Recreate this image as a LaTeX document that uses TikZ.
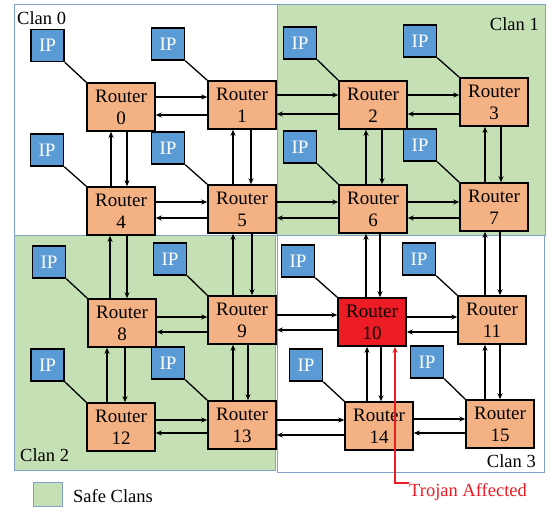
\documentclass[tikz,border=0pt]{standalone}
\usepackage{fontspec}
\setmainfont{Liberation Serif}
\usetikzlibrary{arrows.meta}
\definecolor{clanborder}{HTML}{7FA3CC}
\definecolor{clangreen}{HTML}{C5E0B4}
\definecolor{routerfill}{HTML}{F4B183}
\definecolor{ipfill}{HTML}{5B9BD5}
\definecolor{trojanred}{HTML}{ED1C24}
\tikzset{
  router/.style={draw=black, line width=1.5pt, fill=routerfill, minimum width=68pt, minimum height=48pt, inner sep=0pt, align=center, font=\fontsize{19}{22}\selectfont},
  ipbox/.style={draw=black, line width=1.5pt, fill=ipfill, minimum width=33pt, minimum height=32pt, inner sep=0pt, text=white, font=\fontsize{19}{22}\selectfont},
  clan/.style={draw=clanborder, line width=1pt},
  iplink/.style={draw=black, line width=1.3pt},
  arr/.style={draw=black, line width=1.3pt, -{Stealth[length=6pt,width=5pt]}},
  lbl/.style={font=\fontsize{18.5}{22}\selectfont, inner sep=0pt},
}
\newcommand\HPair[4]{%
  \draw[arr] (#1.east |- 0,#3) -- (#2.west |- 0,#3);
  \draw[arr] (#2.west |- 0,#4) -- (#1.east |- 0,#4);}
\newcommand\VPair[4]{%
  \draw[arr] (#2.north -| #3,0) -- (#1.south -| #3,0);
  \draw[arr] (#1.south -| #4,0) -- (#2.north -| #4,0);}
\begin{document}
\begin{tikzpicture}[x=1pt, y=-1pt]
\useasboundingbox[fill=white] (0,0) rectangle (551,508);
% clans
\path[clan, fill=white] (14,5) rectangle (277,235);
\path[clan, fill=clangreen] (277,5) rectangle (545,235);
\path[clan, fill=clangreen] (14,235) rectangle (275,470);
\path[clan, fill=white] (277,235) rectangle (544,472);
\node[lbl, anchor=west] (c0) at (17,18) {Clan 0};
\node[lbl, anchor=east] (c1) at (539,24) {Clan 1};
\node[lbl, anchor=west] (c2) at (20,455) {Clan 2};
\node[lbl, anchor=east] (c3) at (536,461) {Clan 3};
% routers
\node[router] (r0) at (121,107) {Router\\0};
\node[router] (r1) at (242,105) {Router\\1};
\node[router] (r2) at (373,105) {Router\\2};
\node[router] (r3) at (494,102) {Router\\3};
\node[router] (r4) at (121,211) {Router\\4};
\node[router] (r5) at (242,209) {Router\\5};
\node[router] (r6) at (373,209) {Router\\6};
\node[router] (r7) at (494,207) {Router\\7};
\node[router] (r8) at (122,323) {Router\\8};
\node[router] (r9) at (242,320) {Router\\9};
\node[router, fill=trojanred] (r10) at (372,322) {Router\\10};
\node[router] (r11) at (492,320) {Router\\11};
\node[router] (r12) at (121,427) {Router\\12};
\node[router] (r13) at (242,425) {Router\\13};
\node[router] (r14) at (379,426) {Router\\14};
\node[router] (r15) at (500,424) {Router\\15};
% IPs
\node[ipbox] (p0) at (47.5,45.5) {IP};
\node[ipbox] (p1) at (168,44) {IP};
\node[ipbox] (p2) at (300,43) {IP};
\node[ipbox] (p3) at (420,41) {IP};
\node[ipbox] (p4) at (47,150) {IP};
\node[ipbox] (p5) at (168,148) {IP};
\node[ipbox] (p6) at (300,147) {IP};
\node[ipbox] (p7) at (420,145) {IP};
\node[ipbox] (p8) at (49,262) {IP};
\node[ipbox] (p9) at (170,259) {IP};
\node[ipbox] (p10) at (298,261) {IP};
\node[ipbox] (p11) at (419,259) {IP};
\node[ipbox] (p12) at (47.5,365) {IP};
\node[ipbox] (p13) at (168,363) {IP};
\node[ipbox] (p14) at (306,365) {IP};
\node[ipbox] (p15) at (427,362) {IP};
\foreach \i in {0,...,15}{\draw[iplink] (p\i.south east) -- (r\i.north west);}
% horizontal links
\HPair{r0}{r1}{97}{115}
\HPair{r1}{r2}{95}{114}
\HPair{r2}{r3}{95}{114}
\HPair{r4}{r5}{202}{218}
\HPair{r5}{r6}{202}{218}
\HPair{r6}{r7}{202}{218}
\HPair{r8}{r9}{317}{332}
\HPair{r9}{r10}{315}{330}
\HPair{r10}{r11}{317}{332}
\HPair{r12}{r13}{420}{433}
\HPair{r13}{r14}{420}{435}
\HPair{r14}{r15}{419}{433}
% vertical links
\VPair{r0}{r4}{111}{127}
\VPair{r1}{r5}{233}{251}
\VPair{r2}{r6}{366}{382}
\VPair{r3}{r7}{485}{501}
\VPair{r4}{r8}{110}{127}
\VPair{r5}{r9}{233}{252}
\VPair{r6}{r10}{366}{380}
\VPair{r7}{r11}{485}{500}
\VPair{r8}{r12}{107}{125}
\VPair{r9}{r13}{233}{248}
\VPair{r10}{r14}{367}{381}
\VPair{r11}{r15}{485}{500}
% trojan annotation
\node[lbl, text=trojanred, anchor=west] (tro) at (409,492) {Trojan Affected};
\coordinate (tbend) at (395,483);
\draw[draw=trojanred, line width=1.3pt, -{Stealth[length=6pt,width=5pt]}] (tro.west |- tbend) -- (tbend) -- (r10.south -| tbend);
% legend
\node[draw=clanborder, line width=1pt, fill=clangreen, minimum width=29pt, minimum height=24pt, inner sep=0pt] (leg) at (47.5,494) {};
\node[lbl, anchor=west] (legt) at (73,496) {Safe Clans};
\end{tikzpicture}
\end{document}
